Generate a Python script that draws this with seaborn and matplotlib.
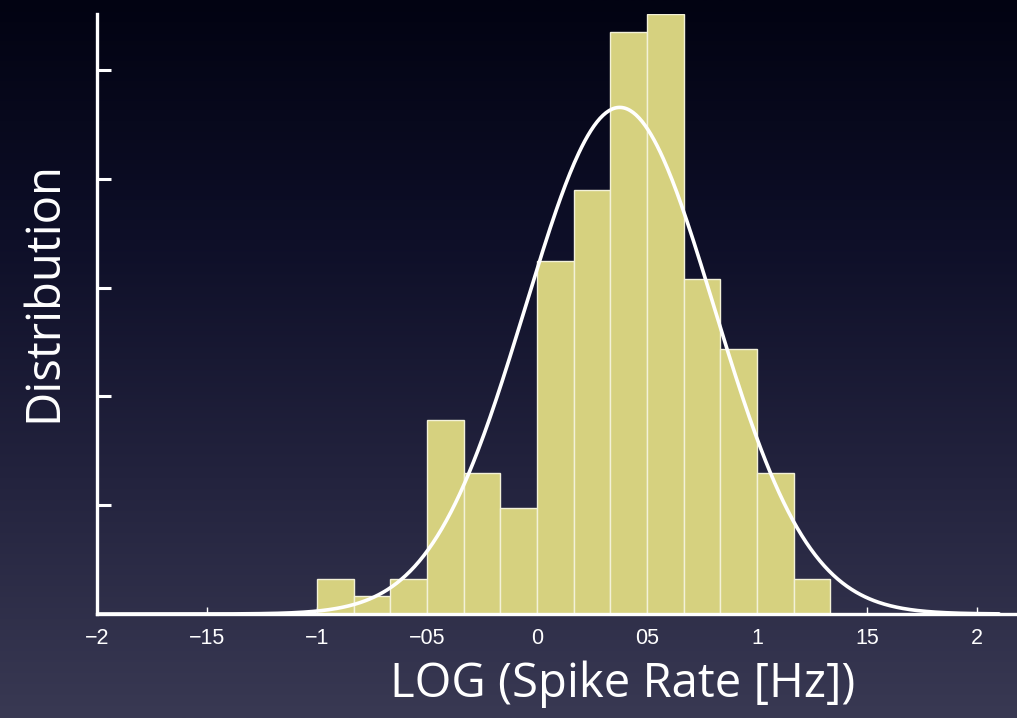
import numpy as np
import pandas as pd
import matplotlib
matplotlib.use("Agg")
import matplotlib.pyplot as plt
from matplotlib.colors import LinearSegmentedColormap
import seaborn as sns

# ---- data ----
bin_start = -1.0
bin_width = 1.0 / 6.0
counts = [2, 1, 2, 11, 8, 6, 20, 24, 33, 34, 19, 15, 8, 2]
fit_mean = 0.376
fit_sd = 0.4285
x_tick_values = [-2, -1.5, -1, -0.5, 0, 0.5, 1, 1.5, 2]
x_tick_labels = ["\u22122", "\u221215", "\u22121", "\u221205", "0", "05", "1", "15", "2"]
y_tick_values = [0.2, 0.4, 0.6, 0.8, 1.0]
x_label = "LOG (Spike Rate [Hz])"
y_label = "Distribution"

edges = bin_start + bin_width * np.arange(len(counts) + 1)
centers = (edges[:-1] + edges[1:]) / 2
df = pd.DataFrame({"x": centers, "w": counts})

sns.set_theme(style="white")
plt.rcParams["font.family"] = ["Liberation Sans", "DejaVu Sans"]

fig = plt.figure(figsize=(10.17, 7.18), dpi=100)

# background gradient
bg = fig.add_axes([0, 0, 1, 1], zorder=-10)
grad = np.linspace(0, 1, 256).reshape(-1, 1)
cmap = LinearSegmentedColormap.from_list("bg", ["#020312", "#0e0f28", "#23233e", "#393953"])
bg.imshow(grad, aspect="auto", cmap=cmap, extent=[0, 1, 0, 1], origin="upper")
bg.set_axis_off()

ax = fig.add_axes([97 / 1017, 104 / 718, (1015 - 97) / 1017, 600 / 718])
ax.patch.set_alpha(0)

sns.histplot(data=df, x="x", weights="w", bins=edges.tolist(), stat="density",
             color="#d6d17f", edgecolor="#f3f1d8", linewidth=1.0, alpha=1.0, ax=ax)

xs = np.linspace(-2, 2.1, 600)
pdf = np.exp(-0.5 * ((xs - fit_mean) / fit_sd) ** 2) / (fit_sd * np.sqrt(2 * np.pi))
sns.lineplot(x=xs, y=pdf, color="white", linewidth=2.6, ax=ax, zorder=5)

ymax = max(counts) / (sum(counts) * bin_width)
ax.set_xlim(-2, 2 + 38 / 220)
ax.set_ylim(0, ymax)

for side in ["top", "right"]:
    ax.spines[side].set_visible(False)
for side in ["left", "bottom"]:
    ax.spines[side].set_color("white")
    ax.spines[side].set_linewidth(2.4)
    ax.spines[side].set_zorder(6)

ax.set_xticks(x_tick_values)
ax.set_xticklabels(x_tick_labels, fontsize=15.5, color="white")
ax.set_yticks(y_tick_values)
ax.set_yticklabels([])
ax.tick_params(axis="x", direction="in", length=5, width=1, color="white", pad=10, bottom=True)
ax.tick_params(axis="y", direction="in", length=10, width=2.2, color="white", left=True)

ax.set_xlabel("")
ax.set_ylabel("")
fig.text(623 / 1017, 1 - 684 / 718, x_label, fontsize=34, color="white",
         family=["Open Sans", "DejaVu Sans"], ha="center", va="center")
fig.text(44 / 1017, 1 - 291 / 718, y_label, fontsize=34, color="white",
         family=["Open Sans", "DejaVu Sans"], ha="center", va="center", rotation=90)

fig.savefig("out.png", dpi=100)
